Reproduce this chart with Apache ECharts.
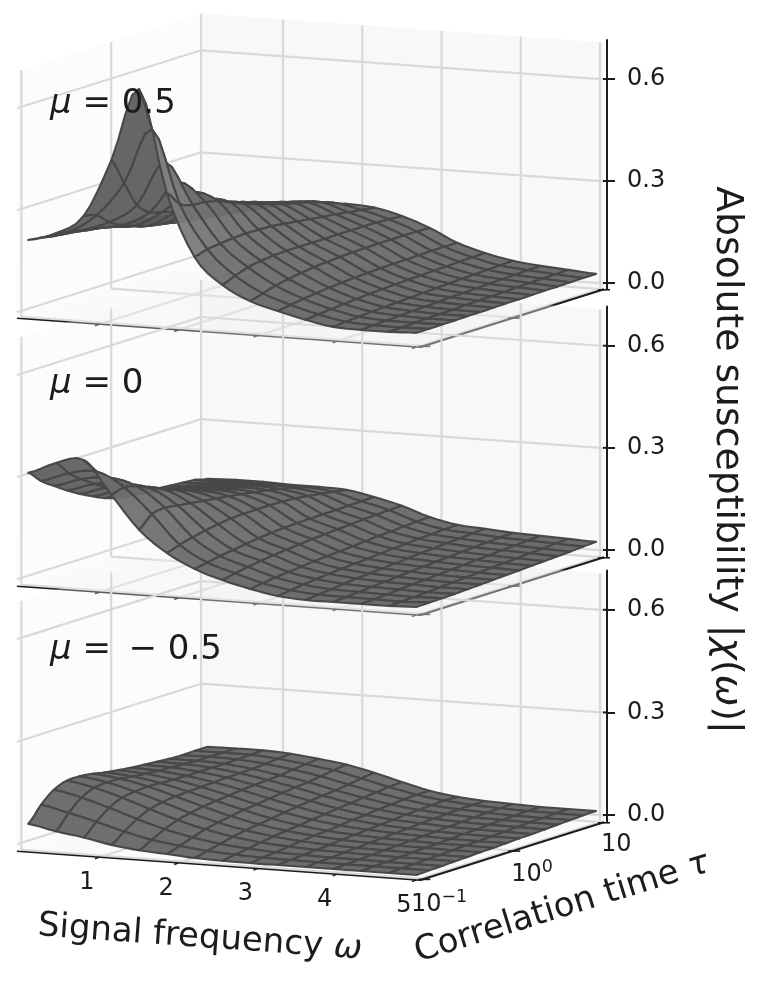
<!DOCTYPE html>
<html><head><meta charset="utf-8">
<style>html,body{margin:0;padding:0;background:#fff}#c{width:768px;height:998px}</style>
<script src="https://cdn.jsdelivr.net/npm/echarts@6/dist/echarts.min.js"></script>
</head><body><div id="c"></div>
<script>
// Mesh nodes
const omegaNodes = [0.05,0.40,0.75,1.10,1.45,1.80,2.15,2.50,2.85,3.20,3.55,3.90,4.25,4.60,4.95];
const logTauNodes = [-1,-0.857,-0.714,-0.571,-0.429,-0.286,-0.143,0,0.143,0.286,0.429,0.571,0.714,0.857,1];
const omegaTicks = [1,2,3,4,5];
const tauTicks = [-1,0,1];
const tauTickBases = ['10','10','10'];
const tauTickExps = ['\u22121','0',''];
const zTicks = [0,0.3,0.6];
// |chi| x 1000, one row per omega node, one column per log tau node
const chiMuPos = [
[223,217,211,205,198,192,186,180,173,167,161,155,149,142,136],
[249,240,232,224,216,208,201,194,187,181,176,170,165,159,152],
[305,295,262,240,225,212,204,196,188,181,175,170,166,163,161],
[475,395,318,284,272,258,244,231,220,210,200,191,183,177,171],
[690,560,450,378,335,300,278,265,253,240,227,215,203,190,176],
[390,345,330,325,315,298,282,268,255,242,232,222,210,195,179],
[208,218,222,225,226,224,222,216,210,204,198,193,186,180,174],
[132,146,158,164,167,168,167,166,165,165,164,163,161,158,155],
[90,100,110,117,122,126,128,130,131,131,131,130,129,128,126],
[67,72,77,81,84,86,88,89,90,90,90,90,90,89,88],
[47,50,53,55,57,59,60,61,62,62,63,63,64,64,64],
[32,34,36,38,39,40,41,42,43,44,45,45,46,46,47],
[29,30,31,32,33,33,34,35,35,36,36,37,37,38,38],
[29,29,30,30,30,30,31,31,31,31,32,32,32,32,32],
[32,31,31,30,30,29,29,29,28,28,28,27,27,27,26]];
const chiMuZero = [
[323,286,259,233,210,190,172,160,156,152,148,144,140,136,126],
[358,315,285,258,235,215,198,184,172,163,156,150,144,136,129],
[372,326,295,265,243,224,208,195,183,173,165,158,150,140,129],
[276,285,275,257,242,226,212,199,188,178,170,162,152,140,126],
[179,212,218,212,206,200,194,188,181,174,167,158,149,138,126],
[117,128,137,144,150,154,155,155,154,152,149,143,137,130,123],
[76,82,88,93,98,102,105,107,108,108,108,108,108,108,108],
[49,56,62,67,71,74,77,79,81,83,84,86,87,88,88],
[29,33,37,40,43,46,48,50,52,54,56,57,59,60,61],
[14,18,22,25,28,30,32,34,36,38,39,41,42,43,44],
[8,11,14,17,20,22,24,26,28,30,32,34,35,37,38],
[8,10,12,14,16,18,20,22,24,25,27,28,30,31,32],
[8,9,10,12,14,15,17,19,20,22,23,25,26,28,29],
[8,8,9,10,12,13,15,16,18,19,20,22,23,25,26],
[11,11,11,11,12,13,14,15,16,17,18,19,20,22,23]];
// this one is listed one row per log tau node
const chiMuNegByTau = [
[70,54,42,26,16,11,5,3,2,2,2,2,2,2,2],
[113,95,75,52,34,22,13,8,5,4,3,3,3,3,3],
[144,127,103,76,52,34,21,13,8,6,4,4,3,3,3],
[158,143,120,92,66,45,29,18,12,8,6,5,4,4,4],
[158,146,125,100,74,52,35,23,15,10,7,6,5,4,4],
[153,144,127,104,80,58,40,27,18,12,9,7,6,5,5],
[144,138,124,105,84,63,44,30,20,14,10,8,6,6,5],
[138,133,122,106,87,67,49,34,23,16,12,9,7,6,6],
[132,129,120,107,90,71,53,37,26,18,13,10,8,7,7],
[128,126,119,108,92,75,57,41,28,20,15,11,9,8,7],
[124,123,118,108,94,78,60,44,31,22,16,12,10,9,8],
[120,120,117,108,95,81,63,47,33,23,17,13,11,10,9],
[118,119,117,110,99,85,67,50,35,24,18,14,11,10,10],
[118,118,118,112,102,90,72,53,36,25,18,14,12,11,11],
[117,118,118,114,105,94,76,55,35,23,17,14,11,11,11]];
const chiMuNeg = chiMuNegByTau[0].map((_, i) => chiMuNegByTau.map(r => r[i]));

const panels = [
  {label:'{i|\u03BC}{n| = 0.5}', labelY:104, table:chiMuPos, zeroY:283, pxPerZ:340, showLabels:false},
  {label:'{i|\u03BC}{n| = 0}', labelY:384, table:chiMuZero, zeroY:550, pxPerZ:340.5, showLabels:false},
  {label:'{i|\u03BC}{n| = \u2009\u2212 0.5}', labelY:650, table:chiMuNeg, zeroY:815, pxPerZ:342, showLabels:true}
];
const FONT = '"DejaVu Sans"';
const OM = [-0.035, 5.05], LT = [-1.05, 1], AX_X = 607, Z_TOP = 0.708;
const floorTilt = 28.3, surfaceTilt = 30.5;
const TEXT = '#1c1c1c';

function projector(p) {
  return function (api, om, lt, z, tilt) {
    const x = 201 + 79.25 * (om + 0.035) + 89.8 * (lt - 1);
    const drop = -5.7 * (5 - om) + tilt * (1 - lt);
    return api.coord([x, z - drop / p.pxPerZ]);
  };
}
function frameRender(p, zMin) {
  const proj = projector(p);
  return function (params, api) {
    const P = (o, t, z) => proj(api, o, t, z, floorTilt);
    const kids = [];
    const poly = (pts, fill) => kids.push({type:'polygon', shape:{points:pts}, style:{fill, stroke:null}});
    const line = (a, b, stroke, w) => kids.push({type:'line', shape:{x1:a[0],y1:a[1],x2:b[0],y2:b[1]}, style:{stroke, lineWidth:w}});
    poly([P(OM[0],LT[1],zMin),P(OM[1],LT[1],zMin),P(OM[1],LT[1],Z_TOP),P(OM[0],LT[1],Z_TOP)], 'rgba(238,238,238,0.42)');
    poly([P(OM[0],LT[0],zMin),P(OM[0],LT[1],zMin),P(OM[0],LT[1],Z_TOP),P(OM[0],LT[0],Z_TOP)], 'rgba(245,245,245,0.3)');
    poly([P(OM[0],LT[0],zMin),P(OM[1],LT[0],zMin),P(OM[1],LT[1],zMin),P(OM[0],LT[1],zMin)], 'rgba(240,240,240,0.3)');
    const G = '#d9d9d9', W = 2.2;
    omegaTicks.forEach(o => {
      line(P(o,LT[0],zMin), P(o,LT[1],zMin), G, W);
      line(P(o,LT[1],zMin), P(o,LT[1],Z_TOP), G, W);
    });
    tauTicks.forEach(t => {
      line(P(OM[0],t,zMin), P(OM[1],t,zMin), G, W);
      line(P(OM[0],t,zMin), P(OM[0],t,Z_TOP), G, W);
    });
    zTicks.forEach(z => {
      line(P(OM[0],LT[0],z), P(OM[0],LT[1],z), G, W);
      line(P(OM[0],LT[1],z), P(OM[1],LT[1],z), G, W);
    });
    const K = '#1c1c1c';
    line(P(OM[0],LT[0],zMin), P(OM[1],LT[0],zMin), K, 1.6);
    line(P(OM[1],LT[0],zMin), P(OM[1],LT[1],zMin), K, 2);
    omegaTicks.forEach(o => { const a = P(o,LT[0],zMin); line(a, [a[0]-4,a[1]+1.5], K, 1.6); });
    tauTicks.forEach(t => { const a = P(OM[1],t,zMin); line([a[0]-6,a[1]+0.5], [a[0]+6,a[1]+0.5], K, 1.6); });
    zTicks.forEach(z => { const a = api.coord([AX_X, z]); line([a[0]-4,a[1]], a, K, 2); });
    if (p.showLabels) {
      const label = (text, x, y, align, size) => kids.push({type:'text', x, y,
        style:{text, fill:TEXT, font:size+'px '+FONT, align, verticalAlign:'middle', textAlign:align, textVerticalAlign:'middle'}});
      omegaTicks.forEach(o => { const a = P(o,LT[0],zMin); label(String(o), a[0]-12, a[1]+25.5, 'center', 24); });
      const dx = [-13.5,-3,-3], dy = [26,24,22];
      tauTicks.forEach((t,k) => {
        const a = P(OM[1],t,zMin);
        label(tauTickBases[k], a[0]+dx[k], a[1]+dy[k], 'left', 24);
        if (tauTickExps[k]) label(tauTickExps[k], a[0]+dx[k]+30.5, a[1]+dy[k]-7, 'left', 17.5);
      });
    }
    return {type:'group', children:kids};
  };
}
const crom = (a,b,c,d,u) => 0.5*(2*b+(c-a)*u+(2*a-5*b+4*c-d)*u*u+(3*b-a-3*c+d)*u*u*u);
function surfaceRender(p) {
  const proj = projector(p);
  const T = p.table, n = omegaNodes.length, m = logTauNodes.length, S = 4;
  const z = (a,b) => T[Math.max(0,Math.min(n-1,a))][Math.max(0,Math.min(m-1,b))] / 1000;
  return function (params, api) {
    const i = api.value(0), j = api.value(1);
    const along = (a,b,u,dir) => { // smooth edge of the mesh line through the table's nodes
      if (dir === 0) {
        const zz = crom(z(a-1,b),z(a,b),z(a+1,b),z(a+2,b),u);
        return proj(api, omegaNodes[a]+(omegaNodes[a+1]-omegaNodes[a])*u, logTauNodes[b], Math.max(0,zz), surfaceTilt);
      }
      const zz = crom(z(a,b-1),z(a,b),z(a,b+1),z(a,b+2),u);
      return proj(api, omegaNodes[a], logTauNodes[b]+(logTauNodes[b+1]-logTauNodes[b])*u, Math.max(0,zz), surfaceTilt);
    };
    const pts = [];
    for (let s=0;s<S;s++) pts.push(along(i,j,s/S,0));
    for (let s=0;s<S;s++) pts.push(along(i+1,j,s/S,1));
    for (let s=S;s>0;s--) pts.push(along(i,j+1,s/S,0));
    for (let s=S;s>0;s--) pts.push(along(i,j,s/S,1));
    const dzi = (z(i+1,j)+z(i+1,j+1)-z(i,j)-z(i,j+1))/2;
    const g = Math.round(Math.min(130, Math.max(92, 99 - 150*dzi)));
    return {type:'polygon', shape:{points:pts},
      style:{fill:`rgba(${g},${g},${g+2},0.94)`, stroke:'#48484a', lineWidth:2.1, lineJoin:'round'}};
  };
}
const cells = [];
for (let j = logTauNodes.length-2; j >= 0; j--) for (let i = 0; i < omegaNodes.length-1; i++) cells.push([i,j]);

const grids=[], xAxes=[], yAxes=[], series=[];
panels.forEach((p,k) => {
  const zMin = -(k===0?6:7)/p.pxPerZ, zMax = 0.715;
  grids.push({left:0, width:AX_X, top:p.zeroY - zMax*p.pxPerZ, height:(zMax-zMin)*p.pxPerZ});
  xAxes.push({gridIndex:k, type:'value', min:0, max:AX_X, show:false});
  yAxes.push({gridIndex:k, type:'value', position:'right', min:zMin, max:zMax,
    splitLine:{show:false}, axisLine:{show:true, onZero:false, lineStyle:{color:'#1c1c1c', width:2}},
    axisTick:{show:true, length:8, customValues:zTicks, lineStyle:{color:'#1c1c1c', width:2}},
    axisLabel:{show:true, margin:20, customValues:zTicks, formatter:v=>v.toFixed(1), color:TEXT, fontSize:24, fontFamily:FONT}});
  series.push({type:'custom', xAxisIndex:k, yAxisIndex:k, z:2+k, clip:false, silent:true, animation:false,
    renderItem:frameRender(p,zMin), data:[[0,0]]});
  series.push({type:'custom', xAxisIndex:k, yAxisIndex:k, z:10+k, clip:false, silent:true, animation:false, progressive:0,
    renderItem:surfaceRender(p), data:cells});
});
const titleStyle = (text,size,rich) => ({text, fill:TEXT, font:size+'px '+FONT, align:'center', verticalAlign:'middle', textAlign:'center', textVerticalAlign:'middle', rich});
const ital = s => ({i:{fontStyle:'italic', fontSize:s, fontFamily:FONT, color:TEXT}, n:{fontSize:s, fontFamily:FONT, color:TEXT}});
const graphics = [
  {type:'text', x:200, y:938, rotation:-0.072, z:50, style:titleStyle('{n|Signal frequency }{i|\u03C9}',34,ital(34))},
  {type:'text', x:562, y:908, rotation:0.30, z:50, style:titleStyle('{n|Correlation time }{i|\u03C4}',34,ital(34))},
  {type:'text', x:727, y:460, rotation:-Math.PI/2, z:50, style:titleStyle('{n|Absolute susceptibility |}{i|\u03C7}{n|(}{i|\u03C9}{n|)|}',37.8,ital(37.8))}
];
panels.forEach(p => {
  graphics.push({type:'text', x:50, y:p.labelY, z:50, style:{text:p.label, fill:TEXT, font:'34px '+FONT, align:'left', verticalAlign:'middle', textAlign:'left', textVerticalAlign:'middle', rich:ital(34)}});
});
const chart = echarts.init(document.getElementById('c'), null, {width:768, height:998});
chart.setOption({animation:false, backgroundColor:'#fff', grid:grids, xAxis:xAxes, yAxis:yAxes, series, graphic:{elements:graphics}, tooltip:{show:false}});
</script></body></html>
